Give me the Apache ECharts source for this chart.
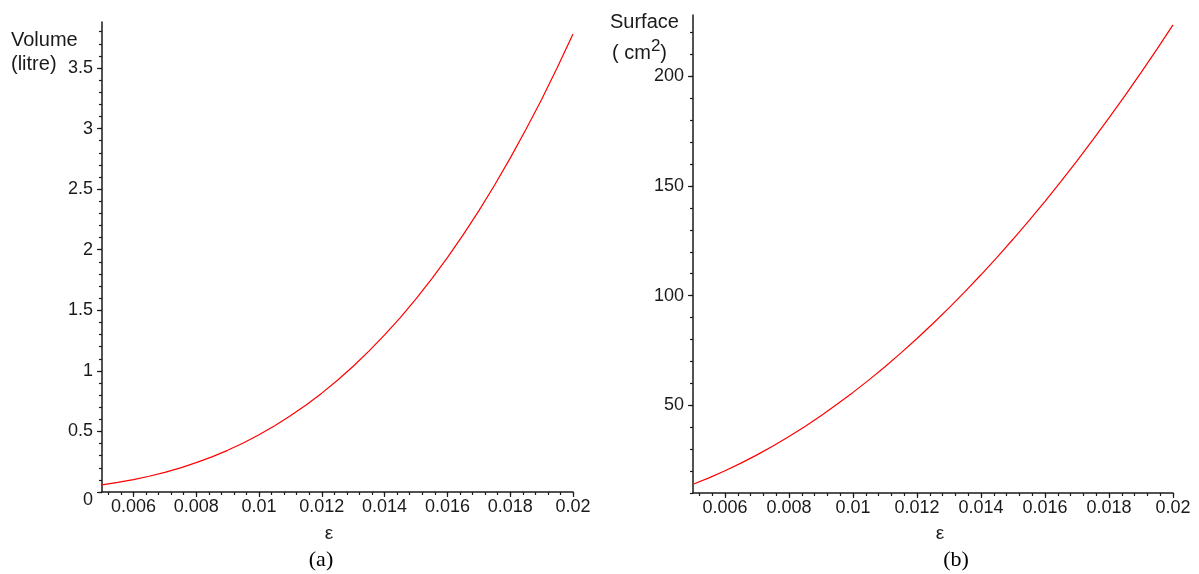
<!DOCTYPE html>
<html>
<head>
<meta charset="utf-8">
<script src="https://cdn.jsdelivr.net/npm/echarts@6/dist/echarts.min.js"></script>
<style>
html,body{margin:0;padding:0;background:#fff;}
#chart{width:1199px;height:574px;}
</style>
</head>
<body>
<div id="chart"></div>
<script>
// ---- data ----
const epsilon = [0.005, 0.0055, 0.006, 0.0065, 0.007, 0.0075, 0.008, 0.0085, 0.009, 0.0095,
  0.01, 0.0105, 0.011, 0.0115, 0.012, 0.0125, 0.013, 0.0135, 0.014, 0.0145,
  0.015, 0.0155, 0.016, 0.0165, 0.017, 0.0175, 0.018, 0.0185, 0.019, 0.0195, 0.02];
const volume = [0.059, 0.079, 0.102, 0.130, 0.162, 0.199, 0.242, 0.290, 0.344, 0.405,
  0.473, 0.547, 0.629, 0.719, 0.816, 0.923, 1.038, 1.163, 1.297, 1.440,
  1.595, 1.760, 1.935, 2.123, 2.321, 2.532, 2.756, 2.992, 3.241, 3.504, 3.78];
const surface = [13.97, 16.90, 20.12, 23.61, 27.38, 31.43, 35.76, 40.37, 45.26, 50.43,
  55.88, 61.60, 67.61, 73.90, 80.46, 87.30, 94.43, 101.83, 109.52, 117.48,
  125.72, 134.24, 143.04, 152.12, 161.48, 171.12, 181.04, 191.23, 201.71, 212.46, 223.5];
const xTickLabels = [0.006, 0.008, 0.01, 0.012, 0.014, 0.016, 0.018, 0.02];
const volTickLabels = [0, 0.5, 1, 1.5, 2, 2.5, 3, 3.5];
const surfTickLabels = [50, 100, 150, 200];

// ---- minor tick positions (style) ----
function steps(a, b, s) { const r = []; for (let v = a; v <= b + s / 1000; v += s) r.push(Math.round(v * 1e6) / 1e6); return r; }
const xMinor = steps(0.0052, 0.02, 0.0004);
const volMinor = steps(0, 3.8, 0.1);
const surfMinor = steps(10, 220, 10);

const AX = '#1a1a1a';
const FONT = 'Liberation Sans, Arial, sans-serif';
const labelStyle = { fontSize: 18, color: AX, fontFamily: FONT };

function xAxes(grid, min, max) {
  return [
    { gridIndex: grid, type: 'value', position: 'bottom', min: min, max: max,
      axisLine: { show: true, lineStyle: { color: AX, width: 1.5 } },
      axisTick: { show: true, customValues: xMinor, length: 3, lineStyle: { color: AX, width: 1.2 } },
      axisLabel: Object.assign({ customValues: xTickLabels, margin: 6,
        formatter: v => String(+(+v).toFixed(4)) }, labelStyle),
      splitLine: { show: false } },
    { gridIndex: grid, type: 'value', position: 'bottom', min: min, max: max,
      axisLine: { show: false },
      axisTick: { show: true, customValues: xTickLabels, length: 5, lineStyle: { color: AX, width: 1.2 } },
      axisLabel: { show: false }, splitLine: { show: false } }
  ];
}
function yAxes(grid, min, max, majors, minors, zeroLow) {
  return [
    { gridIndex: grid, type: 'value', position: 'left', min: min, max: max,
      axisLine: { show: true, lineStyle: { color: AX, width: 1.5 } },
      axisTick: { show: true, customValues: minors, length: 3, lineStyle: { color: AX, width: 1.2 } },
      axisLabel: Object.assign({ customValues: majors, margin: 9,
        formatter: v => (zeroLow && v === 0) ? '{z|0}' : String(v),
        rich: { z: { fontSize: 18, color: AX, fontFamily: FONT, padding: [16, 0, 0, 0] } } }, labelStyle),
      splitLine: { show: false } },
    { gridIndex: grid, type: 'value', position: 'left', min: min, max: max,
      axisLine: { show: false },
      axisTick: { show: true, customValues: majors, length: 5, lineStyle: { color: AX, width: 1.2 } },
      axisLabel: { show: false }, splitLine: { show: false } }
  ];
}

const chart = echarts.init(document.getElementById('chart'), null, { renderer: 'canvas' });
chart.setOption({
  animation: false,
  backgroundColor: '#fff',
  grid: [
    { left: 102, top: 22, width: 471, height: 470 },
    { left: 693, top: 15, width: 480, height: 478 }
  ],
  xAxis: xAxes(0, 0.005, 0.02).concat(xAxes(1, 0.005, 0.02)),
  yAxis: yAxes(0, 0, 3.88, volTickLabels, volMinor, true).concat(yAxes(1, 10, 228, surfTickLabels, surfMinor, false)),
  series: [
    { type: 'line', xAxisIndex: 0, yAxisIndex: 0, showSymbol: false, silent: true,
      lineStyle: { color: '#ff0000', width: 1.2 },
      data: epsilon.map((e, i) => [e, volume[i]]) },
    { type: 'line', xAxisIndex: 2, yAxisIndex: 2, showSymbol: false, silent: true,
      lineStyle: { color: '#ff0000', width: 1.2 },
      data: epsilon.map((e, i) => [e, surface[i]]) }
  ],
  graphic: [
    { type: 'text', left: 11, top: 30, style: { text: 'Volume', font: '20px ' + FONT, fill: AX } },
    { type: 'text', left: 11, top: 54, style: { text: '(litre)', font: '20px ' + FONT, fill: AX } },
    { type: 'text', left: 610, top: 12, style: { text: 'Surface', font: '20px ' + FONT, fill: AX } },
    { type: 'text', left: 612, top: 38, style: { text: '( cm{s|2})', font: '20px ' + FONT, fill: AX, lineHeight: 30,
        rich: { s: { fontSize: 17, fontFamily: FONT, fill: AX, verticalAlign: 'top', lineHeight: 17 } } } },
    { type: 'text', x: 329, y: 534, style: { text: 'ε', font: '19px ' + FONT, fill: AX, align: 'center', verticalAlign: 'middle' } },
    { type: 'text', x: 940, y: 534, style: { text: 'ε', font: '19px ' + FONT, fill: AX, align: 'center', verticalAlign: 'middle' } },
    { type: 'text', x: 321, y: 560, style: { text: '(a)', font: '22px "Liberation Serif", "Times New Roman", serif', fill: '#000', align: 'center', verticalAlign: 'middle' } },
    { type: 'text', x: 956, y: 560, style: { text: '(b)', font: '22px "Liberation Serif", "Times New Roman", serif', fill: '#000', align: 'center', verticalAlign: 'middle' } }
  ]
});
</script>
</body>
</html>
